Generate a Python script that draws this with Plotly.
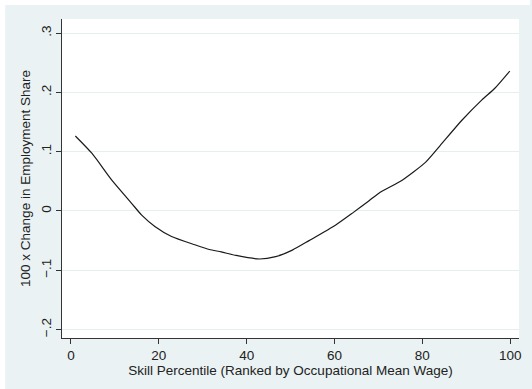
import plotly.graph_objects as go

percentile = [1.0, 4.8, 9.3, 13.8, 16.1, 19.1, 22.9, 28.2, 31.5, 34.2, 37.6, 42.9, 46.6,
              50.4, 54.2, 60.2, 64.0, 67.8, 70.1, 75.4, 80.7, 84.0, 89.0, 93.5, 96.5, 99.9]
change = [0.1265, 0.097, 0.052, 0.013, -0.007, -0.026, -0.043, -0.057, -0.065, -0.069, -0.075,
          -0.081, -0.077, -0.066, -0.050, -0.024, -0.004, 0.017, 0.030, 0.052, 0.082, 0.110,
          0.153, 0.187, 0.207, 0.236]

x_ticks = [0, 20, 40, 60, 80, 100]
y_ticks = [-0.2, -0.1, 0, 0.1, 0.2, 0.3]
y_ticklabels = ["\u2212.2", "\u2212.1", "0", ".1", ".2", ".3"]

BG = "#eaf2f3"
FONT = "Liberation Sans, Arial, sans-serif"
FS = 13.5

fig = go.Figure()
fig.add_trace(go.Scatter(
    x=percentile, y=change, mode="lines",
    line=dict(color="#1a1a1a", width=1.2, shape="spline", smoothing=0.6),
    showlegend=False, hoverinfo="skip",
))

W, H = 532, 389
ml, mr, mt, mb = 62, 11, 19, 51
pw, ph = W - ml - mr, H - mt - mb

def px_to_paper_x(px):
    return (px - ml) / pw

def px_to_paper_y(py):
    return (H - mb - py) / ph

fig.update_layout(
    width=W, height=H,
    margin=dict(l=ml, r=mr, t=mt, b=mb, pad=0),
    paper_bgcolor=BG, plot_bgcolor="white",
    font=dict(family=FONT, size=FS, color="#222222"),
    shapes=[
        dict(type="rect", xref="paper", yref="paper",
             x0=px_to_paper_x(0), x1=px_to_paper_x(W), y0=px_to_paper_y(5), y1=px_to_paper_y(-2),
             fillcolor="white", line=dict(width=0), layer="below"),
        dict(type="rect", xref="paper", yref="paper",
             x0=px_to_paper_x(-2), x1=px_to_paper_x(5), y0=px_to_paper_y(H + 2), y1=px_to_paper_y(0),
             fillcolor="white", line=dict(width=0), layer="below"),
    ],
    xaxis=dict(
        range=[-2.04, 102.0], tickvals=x_ticks, ticks="outside", ticklen=5, tickwidth=1,
        tickcolor="#333333", showline=True, linecolor="#333333", linewidth=1.2,
        showgrid=False, zeroline=False, mirror=False,
        tickfont=dict(size=FS, family=FONT, color="#222222"),
        title=dict(text="Skill Percentile (Ranked by Occupational Mean Wage)",
                   font=dict(size=FS, family=FONT, color="#222222"), standoff=0),
    ),
    yaxis=dict(
        range=[-0.2142, 0.3238], tickvals=y_ticks, ticktext=y_ticklabels, tickangle=-90,
        ticks="outside", ticklen=5, tickwidth=1, tickcolor="#333333",
        showline=True, linecolor="#333333", linewidth=1.2,
        showgrid=True, gridcolor="#e6eff0", gridwidth=1, zeroline=False,
        tickfont=dict(size=FS, family=FONT, color="#222222"),
        title=dict(text="100 x Change in Employment Share",
                   font=dict(size=FS, family=FONT, color="#222222"), standoff=4),
    ),
)

fig.write_html("out.html")
